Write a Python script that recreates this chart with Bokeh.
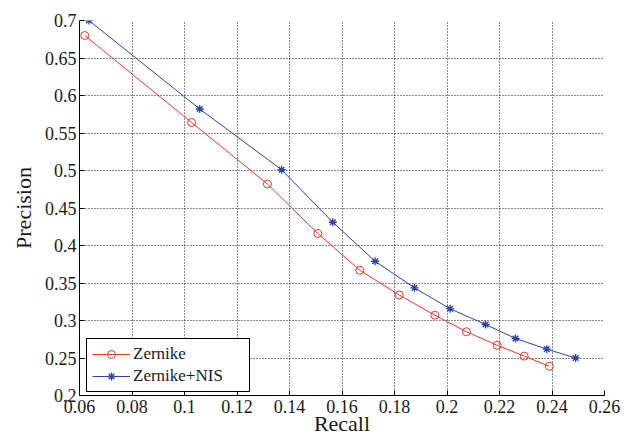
from bokeh.plotting import figure
from bokeh.models import FixedTicker, NumeralTickFormatter, Range1d, Legend
from bokeh.embed import file_html
from bokeh.resources import INLINE

# ---- data ----
zernike_recall = [0.062, 0.1027, 0.1316, 0.1508, 0.1668, 0.1818, 0.1954, 0.2074, 0.2191, 0.2294, 0.239]
zernike_precision = [0.680, 0.564, 0.482, 0.416, 0.367, 0.334, 0.307, 0.285, 0.267, 0.2525, 0.239]

nis_recall = [0.0636, 0.1058, 0.137, 0.1565, 0.1726, 0.1876, 0.2012, 0.2147, 0.2261, 0.238, 0.249]
nis_precision = [0.700, 0.582, 0.501, 0.431, 0.379, 0.3436, 0.3156, 0.2947, 0.276, 0.2618, 0.250]

x_ticks = [0.06, 0.08, 0.10, 0.12, 0.14, 0.16, 0.18, 0.20, 0.22, 0.24, 0.26]
y_ticks = [0.2, 0.25, 0.3, 0.35, 0.4, 0.45, 0.5, 0.55, 0.6, 0.65, 0.7]

series_names = ["Zernike", "Zernike+NIS"]
x_label = "Recall"
y_label = "Precision"

FONT = "Liberation Serif"
RED = "#e5392f"
BLUE = "#2f42a6"
TXT = "#1a1a1a"

p = figure(width=629, height=442, output_backend="svg", toolbar_location=None,
           x_range=Range1d(x_ticks[0], x_ticks[-1]), y_range=Range1d(y_ticks[0], y_ticks[-1]),
           min_border_left=79, min_border_right=25, min_border_top=20, min_border_bottom=47)
p.outline_line_color = None
p.background_fill_color = "white"
p.border_fill_color = "white"

r1l = p.line(zernike_recall, zernike_precision, line_color=RED, line_width=1)
r1m = p.scatter(zernike_recall, zernike_precision, marker="circle", size=8,
                line_color=RED, fill_color=None, line_width=1)
r2l = p.line(nis_recall, nis_precision, line_color=BLUE, line_width=1)
r2m = p.scatter(nis_recall, nis_precision, marker="asterisk", size=8,
                line_color=BLUE, line_width=1.3)

# axes
for ax in (p.xaxis[0], p.yaxis[0]):
    ax.axis_line_color = "black"
    ax.axis_line_width = 1
    ax.major_tick_line_color = "black"
    ax.major_tick_in = 5
    ax.major_tick_out = 0
    ax.minor_tick_line_color = None
    ax.major_label_text_font = FONT
    ax.major_label_text_font_size = "18px"
    ax.major_label_text_color = TXT
    ax.axis_label_text_font = FONT
    ax.axis_label_text_font_size = "22px"
    ax.axis_label_text_font_style = "normal"
    ax.axis_label_text_color = TXT

p.xaxis.ticker = FixedTicker(ticks=x_ticks)
p.yaxis.ticker = FixedTicker(ticks=y_ticks)
p.xaxis.formatter = NumeralTickFormatter(format="0.[00]")
p.yaxis.formatter = NumeralTickFormatter(format="0.[00]")
p.xaxis.major_label_standoff = 4
p.yaxis.major_label_standoff = 3

p.yaxis.axis_label = y_label
p.yaxis.axis_label_standoff = 6
p.xaxis.axis_label = x_label
p.xaxis.axis_label_standoff = -5

# grid
for g in (p.xgrid[0], p.ygrid[0]):
    g.grid_line_color = "black"
    g.grid_line_dash = "1 2"
    g.grid_line_width = 1
    g.grid_line_alpha = 0.9
p.xgrid.ticker = FixedTicker(ticks=x_ticks)
p.ygrid.ticker = FixedTicker(ticks=y_ticks)

legend = Legend(items=[(series_names[0], [r1l, r1m]), (series_names[1], [r2l, r2m])],
                location=(7, 3), margin=0, padding=5, spacing=2,
                glyph_width=38, glyph_height=20, label_height=20, label_width=111,
                label_standoff=3,
                label_text_font=FONT, label_text_font_size="17px", label_text_color=TXT,
                border_line_color="black", border_line_width=1, border_line_alpha=1,
                background_fill_color="white", background_fill_alpha=1)
p.add_layout(legend)

open("out.html", "w").write(file_html(p, INLINE))
